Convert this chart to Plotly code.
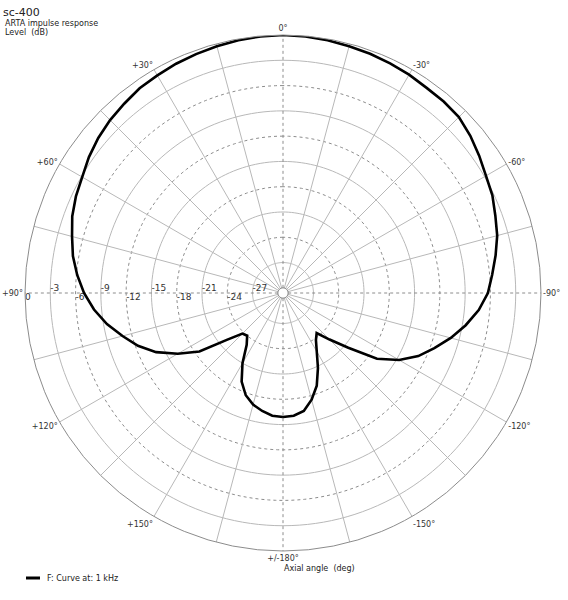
import plotly.graph_objects as go

# measured polar response, angle in degrees (+ = left of axis), level in dB
angles = [-180, -175, -170, -165, -160, -155, -150, -145, -140, -135, -130, -125,
          -120, -115, -110, -105, -100, -95, -90, -85, -80, -75, -70, -65,
          -60, -55, -50, -45, -40, -35, -30, -25, -20, -15, -10, -5,
          0, 5, 10, 15, 20, 25, 30, 35, 40, 45, 50, 55,
          60, 65, 70, 75, 80, 85, 90, 95, 100, 105, 110, 115,
          120, 125, 130, 135, 140, 145, 150, 155, 160, 165, 170, 175, 180]
level_db = [-15.9, -16.0, -16.4, -17.5, -18.9, -20.8, -22.6, -23.8, -24.4, -22.8, -20.5, -17.0,
            -14.7, -12.9, -11.5, -10.0, -8.6, -7.3, -6.3, -5.7, -5.0, -4.3, -3.8, -3.2,
            -2.8, -2.2, -1.6, -1.1, -0.95, -0.9, -0.7, -0.55, -0.4, -0.3, -0.15, -0.05,
            0.0, -0.05, -0.15, -0.3, -0.45, -0.6, -0.8, -0.95, -1.3, -1.6, -2.0, -2.5,
            -3.1, -3.5, -4.0, -4.7, -5.3, -6.1, -7.0, -8.1, -9.4, -10.9, -12.3, -14.0,
            -16.2, -18.5, -22.0, -23.8, -24.0, -23.1, -21.0, -19.0, -17.7, -16.9, -16.4, -16.0, -15.9]

angle_ticks = [0, 30, 60, 90, 120, 150, 180, 210, 240, 270, 300, 330]
angle_labels = ["0°", "+30°", "+60°", "+90°", "+120°", "+150°", "+/-180°",
                "-150°", "-120°", "-90°", "-60°", "-30°"]
db_ticks = [0, -3, -6, -9, -12, -15, -18, -21, -24, -27]

R_MIN, R_MAX = -30, 0
GRID = "#b8b8b8"
DOTS = "#8c8c8c"
W, H = 568, 600

fig = go.Figure()

# rings
circle = list(range(0, 361, 2))
for v in [-30] + db_ticks[1:]:
    dotted = v % 6 == 0 and v != -30
    fig.add_trace(go.Scatterpolar(
        r=[v] * len(circle), theta=circle, mode="lines",
        line=dict(color=DOTS if dotted else GRID, width=1,
                  dash="dot" if dotted else "solid"),
        hoverinfo="skip", showlegend=False))

# spokes
for a in range(0, 360, 15):
    dotted = a % 90 == 0
    fig.add_trace(go.Scatterpolar(
        r=[R_MIN, R_MAX], theta=[a, a], mode="lines",
        line=dict(color=DOTS if dotted else GRID, width=1,
                  dash="dot" if dotted else "solid"),
        hoverinfo="skip", showlegend=False))

# dB labels along the +90 spoke, alternating above / below
fig.add_trace(go.Scatterpolar(
    r=db_ticks, theta=[90] * len(db_ticks), mode="text",
    text=[str(v) for v in db_ticks],
    textposition=["bottom right" if v % 6 == 0 else "top right" for v in db_ticks],
    textfont=dict(family="DejaVu Sans", size=9, color="#333333"),
    cliponaxis=False, hoverinfo="skip", showlegend=False))

# the curve
fig.add_trace(go.Scatterpolar(
    r=level_db, theta=angles, mode="lines",
    line=dict(color="black", width=2.6),
    name="F: Curve at: 1 kHz", showlegend=False))


def px(x):
    return x / W


def py(y):
    return (H - y) / H


def note(text, x, y, size=9, anchor="left"):
    fig.add_annotation(text=text, x=px(x), y=py(y), xref="paper", yref="paper",
                       xanchor=anchor, yanchor="middle", showarrow=False,
                       font=dict(family="DejaVu Sans", size=size, color="#222222"))


note("sc-400", 1, 12, size=11)
note("ARTA impulse response", 3, 23, size=8)
note("Level  (dB)", 3, 32, size=8)
note("Axial angle  (deg)", 282, 568, size=8)
note("F: Curve at: 1 kHz", 45, 578, size=8)

fig.add_shape(type="line", xref="paper", yref="paper",
              x0=px(26), x1=px(40), y0=py(578), y1=py(578),
              line=dict(color="black", width=3))

fig.update_layout(
    width=W, height=H,
    margin=dict(l=0, r=0, t=0, b=0),
    paper_bgcolor="white",
    showlegend=False,
    polar=dict(
        domain=dict(x=[px(25), px(541)], y=[py(551), py(35)]),
        bgcolor="white",
        hole=0.02,
        radialaxis=dict(range=[R_MIN, R_MAX], showgrid=False, showline=False,
                        showticklabels=False, ticks=""),
        angularaxis=dict(rotation=90, direction="counterclockwise",
                         tickmode="array", tickvals=angle_ticks, ticktext=angle_labels,
                         tickfont=dict(family="DejaVu Sans", size=8, color="#333333"),
                         showgrid=False, showline=True, linecolor="#8c8c8c",
                         linewidth=1, ticks=""),
    ),
)

# drop the default page margin so the figure sits at the window corner
fig.write_html("out.html", config={"displayModeBar": False},
               post_script="document.body.style.margin='0';")
